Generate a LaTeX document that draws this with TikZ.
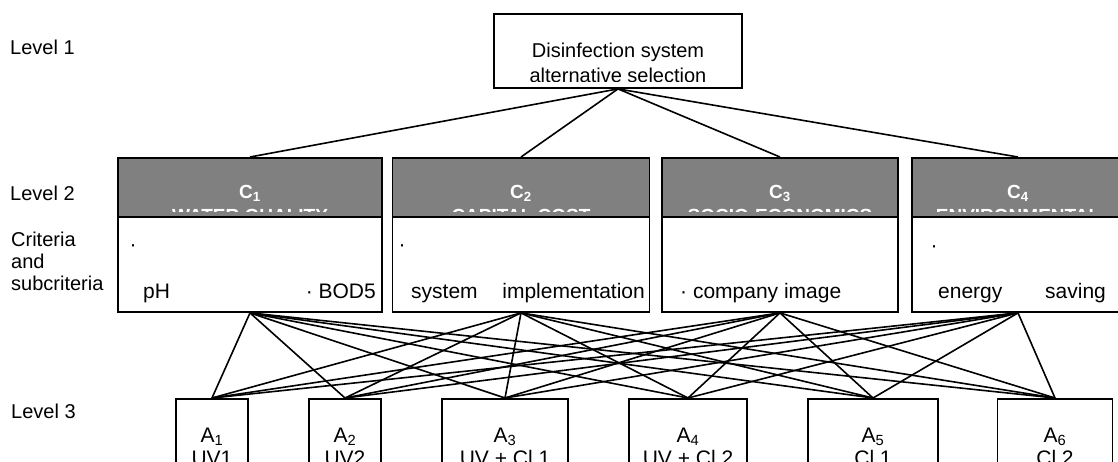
\documentclass[tikz,border=0pt]{standalone}
\usepackage{fontspec}
\setmainfont{Liberation Sans}
\usepackage{xcolor}
\definecolor{headgray}{RGB}{128,128,128}

\begin{document}
\begin{tikzpicture}[x=1pt,y=-1pt,
    box/.style={draw,line width=1.9pt,inner sep=0pt,anchor=north},
    head/.style={box,fill=headgray},
    link/.style={line width=1.6pt},
    lab/.style={anchor=base west,inner sep=0pt,font=\fontsize{20}{23}\selectfont},
    txt/.style={anchor=base,inner sep=0pt,font=\fontsize{21}{24}\selectfont},
    htxt/.style={anchor=base,inner sep=0pt,text=white,font=\fontsize{19}{22}\selectfont\bfseries}]
    \useasboundingbox (0,0) rectangle (1118,461);
    \clip (0,0) rectangle (1118,461);

    % levels
    \node[lab] (l1) at (10,54) {Level 1};
    \node[lab] (l2) at (10,200) {Level 2};
    \node[lab] (l2a) at (11,246) {Criteria};
    \node[lab] (l2b) at (11,268) {and};
    \node[lab] (l2c) at (11,290) {subcriteria};
    \node[lab] (l3) at (11,418) {Level 3};

    % goal
    \node[box,minimum width=248,minimum height=74] (goal) at (618,13) {};
    \begin{scope}
        \clip (goal.north west) rectangle ([yshift=7pt]goal.south east);
        \node[txt,font=\fontsize{20}{23}\selectfont] (goal-a) at (618,57) {Disinfection system};
        \node[txt,font=\fontsize{20}{23}\selectfont] (goal-b) at (618,82) {alternative selection};
    \end{scope}

    % criteria
    \foreach \n/\x/\w in {1/250/264,2/521/257,3/780/236,4/1018/212}{
        \node[box,minimum width=\w,minimum height=154] (c\n) at (\x,157) {};
        \node[head,minimum width=\w,minimum height=59] (h\n) at (c\n.north) {};
    }
    \begin{scope}
        \clip (0,150) rectangle (1118,211);
        \foreach \n/\t in {1/WATER QUALITY,2/CAPITAL COST,3/SOCIO-ECONOMICS,4/ENVIRONMENTAL}{
            \node[htxt] (h\n-a) at ([yshift=-41pt]h\n.north) {C\textsubscript{\n}};
            \node[htxt] (h\n-b) at ([yshift=-65pt]h\n.north) {\t};
        }
    \end{scope}
    \begin{scope}
        \clip (0,217) rectangle (1118,303);
        \node[txt,anchor=center] (s1) at (133,248) {·};
        \node[txt,anchor=base west] (s1a) at (143,298) {pH};
        \node[txt,anchor=base east] (s1b) at (376,298) {· BOD5};
        \node[txt,anchor=center] (s2) at (402,248) {·};
        \node[txt,anchor=base west] (s2a) at (411,298) {system};
        \node[txt,anchor=base east] (s2b) at (645,298) {implementation};
        \node[txt,anchor=base west] (s3a) at (680,298) {· company image};
        \node[txt,anchor=center] (s4) at (934,249) {·};
        \node[txt,anchor=base west] (s4a) at (938,298) {energy};
        \node[txt,anchor=base west] (s4b) at (1045,298) {saving};
    \end{scope}

    % alternatives
    \foreach \n/\x/\w/\t in {1/212/72/UV1,2/345/72/UV2,3/505/126/UV + Cl 1,
                             4/688/118/UV + Cl 2,5/873/130/Cl 1,6/1055/115/Cl 2}{
        \node[box,minimum width=\w,minimum height=110] (a\n) at (\x,398) {};
        \node[txt] (a\n-a) at ([yshift=-44pt]a\n.north) {A\textsubscript{\n}};
        \node[txt] (a\n-b) at ([yshift=-67pt]a\n.north) {\t};
    }

    \foreach \i in {1,...,4}{
        \draw[link] (goal.south) -- (c\i.north);
        \foreach \j in {1,...,6}
            \draw[link] (c\i.south) -- (a\j.north);
    }
\end{tikzpicture}
\end{document}
